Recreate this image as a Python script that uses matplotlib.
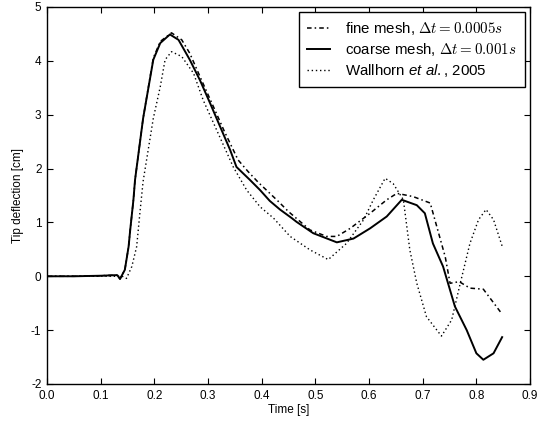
import numpy as np
import matplotlib
matplotlib.use('Agg')
import matplotlib.pyplot as plt

plt.rcParams['font.family'] = ['Liberation Sans', 'DejaVu Sans']
plt.rcParams['mathtext.fontset'] = 'cm'
# sans italic for "et al." (used only where math_fontfamily='custom')
plt.rcParams['mathtext.rm'] = 'Liberation Sans'
plt.rcParams['mathtext.it'] = 'Liberation Sans:italic'
plt.rcParams['axes.unicode_minus'] = False

# === Data ===
t_coarse = [0.0, 0.05, 0.10, 0.125, 0.131, 0.136, 0.145, 0.152, 0.155, 0.161, 0.164,
            0.179, 0.198, 0.211, 0.229, 0.245, 0.266, 0.285, 0.304, 0.316, 0.341,
            0.353, 0.378, 0.397, 0.415, 0.434, 0.456, 0.465, 0.496, 0.54, 0.571,
            0.602, 0.633, 0.661, 0.689, 0.704, 0.719, 0.738, 0.76, 0.782, 0.80,
            0.813, 0.832, 0.848]
y_coarse = [0.0, 0.0, 0.01, 0.02, 0.02, -0.05, 0.12, 0.55, 0.86, 1.42, 1.79,
            2.93, 4.02, 4.33, 4.49, 4.39, 4.02, 3.64, 3.21, 2.93, 2.35,
            2.03, 1.79, 1.6, 1.4, 1.24, 1.08, 1.01, 0.8, 0.63, 0.7,
            0.89, 1.11, 1.42, 1.32, 1.17, 0.61, 0.18, -0.56, -1.0, -1.43,
            -1.55, -1.43, -1.13]

t_fine = [0.0, 0.05, 0.10, 0.125, 0.131, 0.136, 0.145, 0.152, 0.155, 0.161, 0.164,
          0.179, 0.198, 0.211, 0.232, 0.251, 0.266, 0.288, 0.31, 0.33, 0.356,
          0.375, 0.394, 0.412, 0.431, 0.45, 0.49, 0.521, 0.54, 0.565, 0.602,
          0.633, 0.652, 0.682, 0.714, 0.742, 0.751, 0.768, 0.788, 0.813, 0.847]
y_fine = [0.0, 0.0, 0.01, 0.02, 0.02, -0.05, 0.12, 0.55, 0.86, 1.42, 1.79,
          2.93, 4.05, 4.36, 4.52, 4.39, 4.14, 3.64, 3.15, 2.7, 2.16,
          1.94, 1.74, 1.57, 1.39, 1.2, 0.86, 0.74, 0.74, 0.89, 1.17,
          1.42, 1.54, 1.48, 1.36, 0.36, -0.13, -0.1, -0.22, -0.24, -0.69]

t_wall = [0.0, 0.05, 0.10, 0.14, 0.148, 0.158, 0.167, 0.173, 0.179, 0.198, 0.211,
          0.22, 0.232, 0.251, 0.273, 0.291, 0.31, 0.347, 0.372, 0.397, 0.422,
          0.453, 0.49, 0.524, 0.558, 0.59, 0.608, 0.63, 0.645, 0.664, 0.676,
          0.689, 0.707, 0.735, 0.754, 0.77, 0.788, 0.804, 0.818, 0.832, 0.848]
y_wall = [0.0, 0.0, 0.0, 0.0, -0.04, 0.18, 0.55, 1.17, 1.76, 2.93, 3.52,
          4.02, 4.17, 4.08, 3.77, 3.27, 2.85, 2.03, 1.6, 1.29, 1.08,
          0.74, 0.49, 0.31, 0.61, 1.05, 1.42, 1.82, 1.72, 1.42, 0.49,
          -0.13, -0.75, -1.11, -0.81, -0.13, 0.61, 1.05, 1.24, 1.05, 0.56]

labels = [r'fine mesh, $\Delta t = 0.0005s$',
          r'coarse mesh, $\Delta t = 0.001s$',
          r'Wallhorn $et\ al.$, 2005']

# === Plot ===
fig = plt.figure(figsize=(5.38, 4.23), dpi=100)
ax = fig.add_axes([0.0874, 0.0922, 0.8978, 0.8913])

ax.plot(t_fine, y_fine, color='black', lw=1.1, linestyle=(0, (3, 2, 1, 2)), label=labels[0])
ax.plot(t_coarse, y_coarse, color='black', lw=1.4, linestyle='-', label=labels[1])
ax.plot(t_wall, y_wall, color='black', lw=1.0, linestyle=(0, (1, 2)), label=labels[2])

ax.set_xlim(0, 0.9)
ax.set_ylim(-2, 5)
ax.set_xticks(np.arange(0, 0.91, 0.1))
ax.set_xticklabels([f'{v:.1f}' for v in np.arange(0, 0.91, 0.1)])
ax.set_yticks(range(-2, 6))
ax.tick_params(direction='in', top=True, right=True, length=4, labelsize=8.5, pad=4)
for s in ax.spines.values():
    s.set_linewidth(1.0)

ax.set_xlabel('Time [s]', fontsize=8.5, labelpad=2)
ax.set_ylabel('Tip deflection [cm]', fontsize=8.5, labelpad=5)

leg = ax.legend(loc='upper right', fontsize=10.8, fancybox=False, edgecolor='black',
                handlelength=1.55, handletextpad=1.0, labelspacing=0.25,
                borderpad=0.55, borderaxespad=0.35, framealpha=1)
leg.get_frame().set_linewidth(1.0)
leg.get_texts()[2].set_math_fontfamily('custom')

fig.savefig('out.png', dpi=100)
